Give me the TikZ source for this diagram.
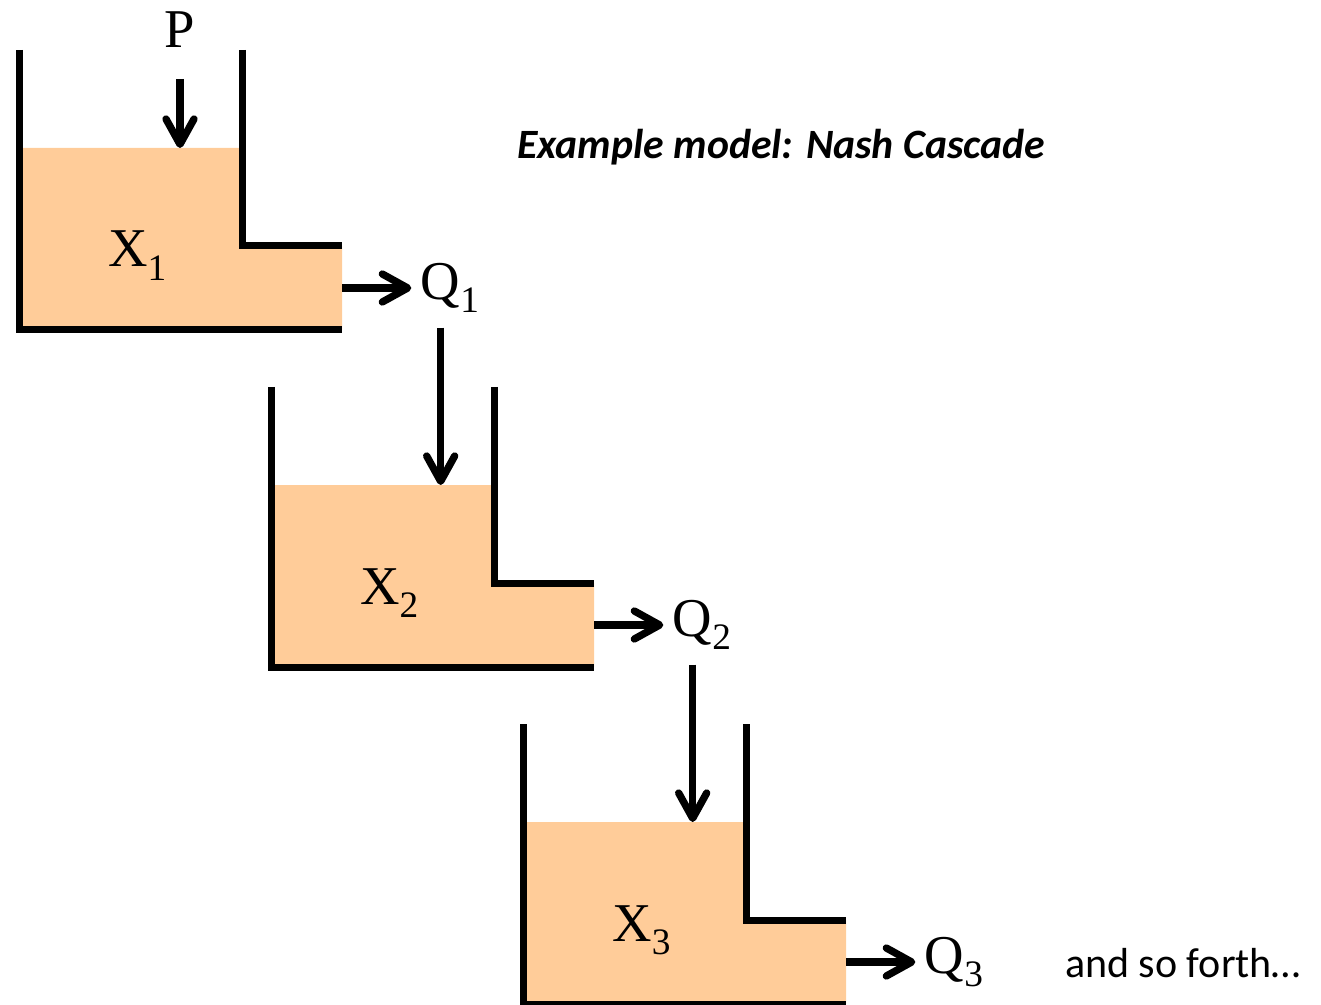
\documentclass[tikz,border=0pt]{standalone}
\usepackage{fontspec}
\setmainfont{Liberation Serif}
\newfontfamily\notefont{Carlito}
\usetikzlibrary{arrows.meta, positioning}

\definecolor{storage}{RGB}{255,204,153}

% state or flux symbol with a lowered index
\newcommand{\withindex}[2]{#1\raisebox{-10pt}{\fontsize{28}{28}\selectfont #2}}

\begin{document}
\begin{tikzpicture}[
  x=0.75pt, y=-0.75pt,
  wall/.style={line width=5.25pt},
  flow/.style={-{Straight Barb[length=19pt, width=21pt, line cap=round, line join=round]},
    line width=5.5pt},
  var/.style={inner sep=0pt, font=\fontsize{41}{41}\selectfont},
  note/.style={inner sep=0pt, font=\notefont\fontsize{31.5}{31.5}\selectfont}
]
  \useasboundingbox (0,0) rectangle (1321,1005);

  % the cascade: each reservoir sits lower and to the right
  \foreach \i in {1,2,3} {
    \begin{scope}[shift={({(\i-1)*252},{(\i-1)*337})}]
      \fill[storage] (19,148) -- (242,148) -- (242,246) -- (342,246)
        -- (342,330) -- (19,330) -- cycle;
      \draw[wall] (19,50) -- (19,330) -- (342,330);
      \draw[wall] (242,50) -- (242,246) -- (342,246);
      \coordinate (surf\i) at (19,148);
      \coordinate (out\i) at (342,288);
      \node[var, anchor=base west] (X\i) at (108,267) {\withindex{X}{\i}};
      \node[var, right=59pt of out\i] (Q\i) {\withindex{Q}{\i}};
    \end{scope}
    \draw[flow, shorten >=7pt] (out\i) -- (Q\i);
  }

  % inflows from above
  \node[var] (P) at (180,30) {P};
  \draw[flow, shorten <=23pt] (P) -- (P |- surf1);
  \draw[flow, shorten <=11pt] ([xshift=-7pt]Q1.south) -- ([xshift=-7pt]Q1.south |- surf2);
  \draw[flow, shorten <=11pt] ([xshift=-7pt]Q2.south) -- ([xshift=-7pt]Q2.south |- surf3);

  \node[note, font=\notefont\bfseries\itshape\fontsize{31.3}{31.3}\selectfont] (title) at (781,147) {Example model: Nash Cascade};
  \node[note] (more) at (1183,963) {and so forth…};
\end{tikzpicture}
\end{document}
